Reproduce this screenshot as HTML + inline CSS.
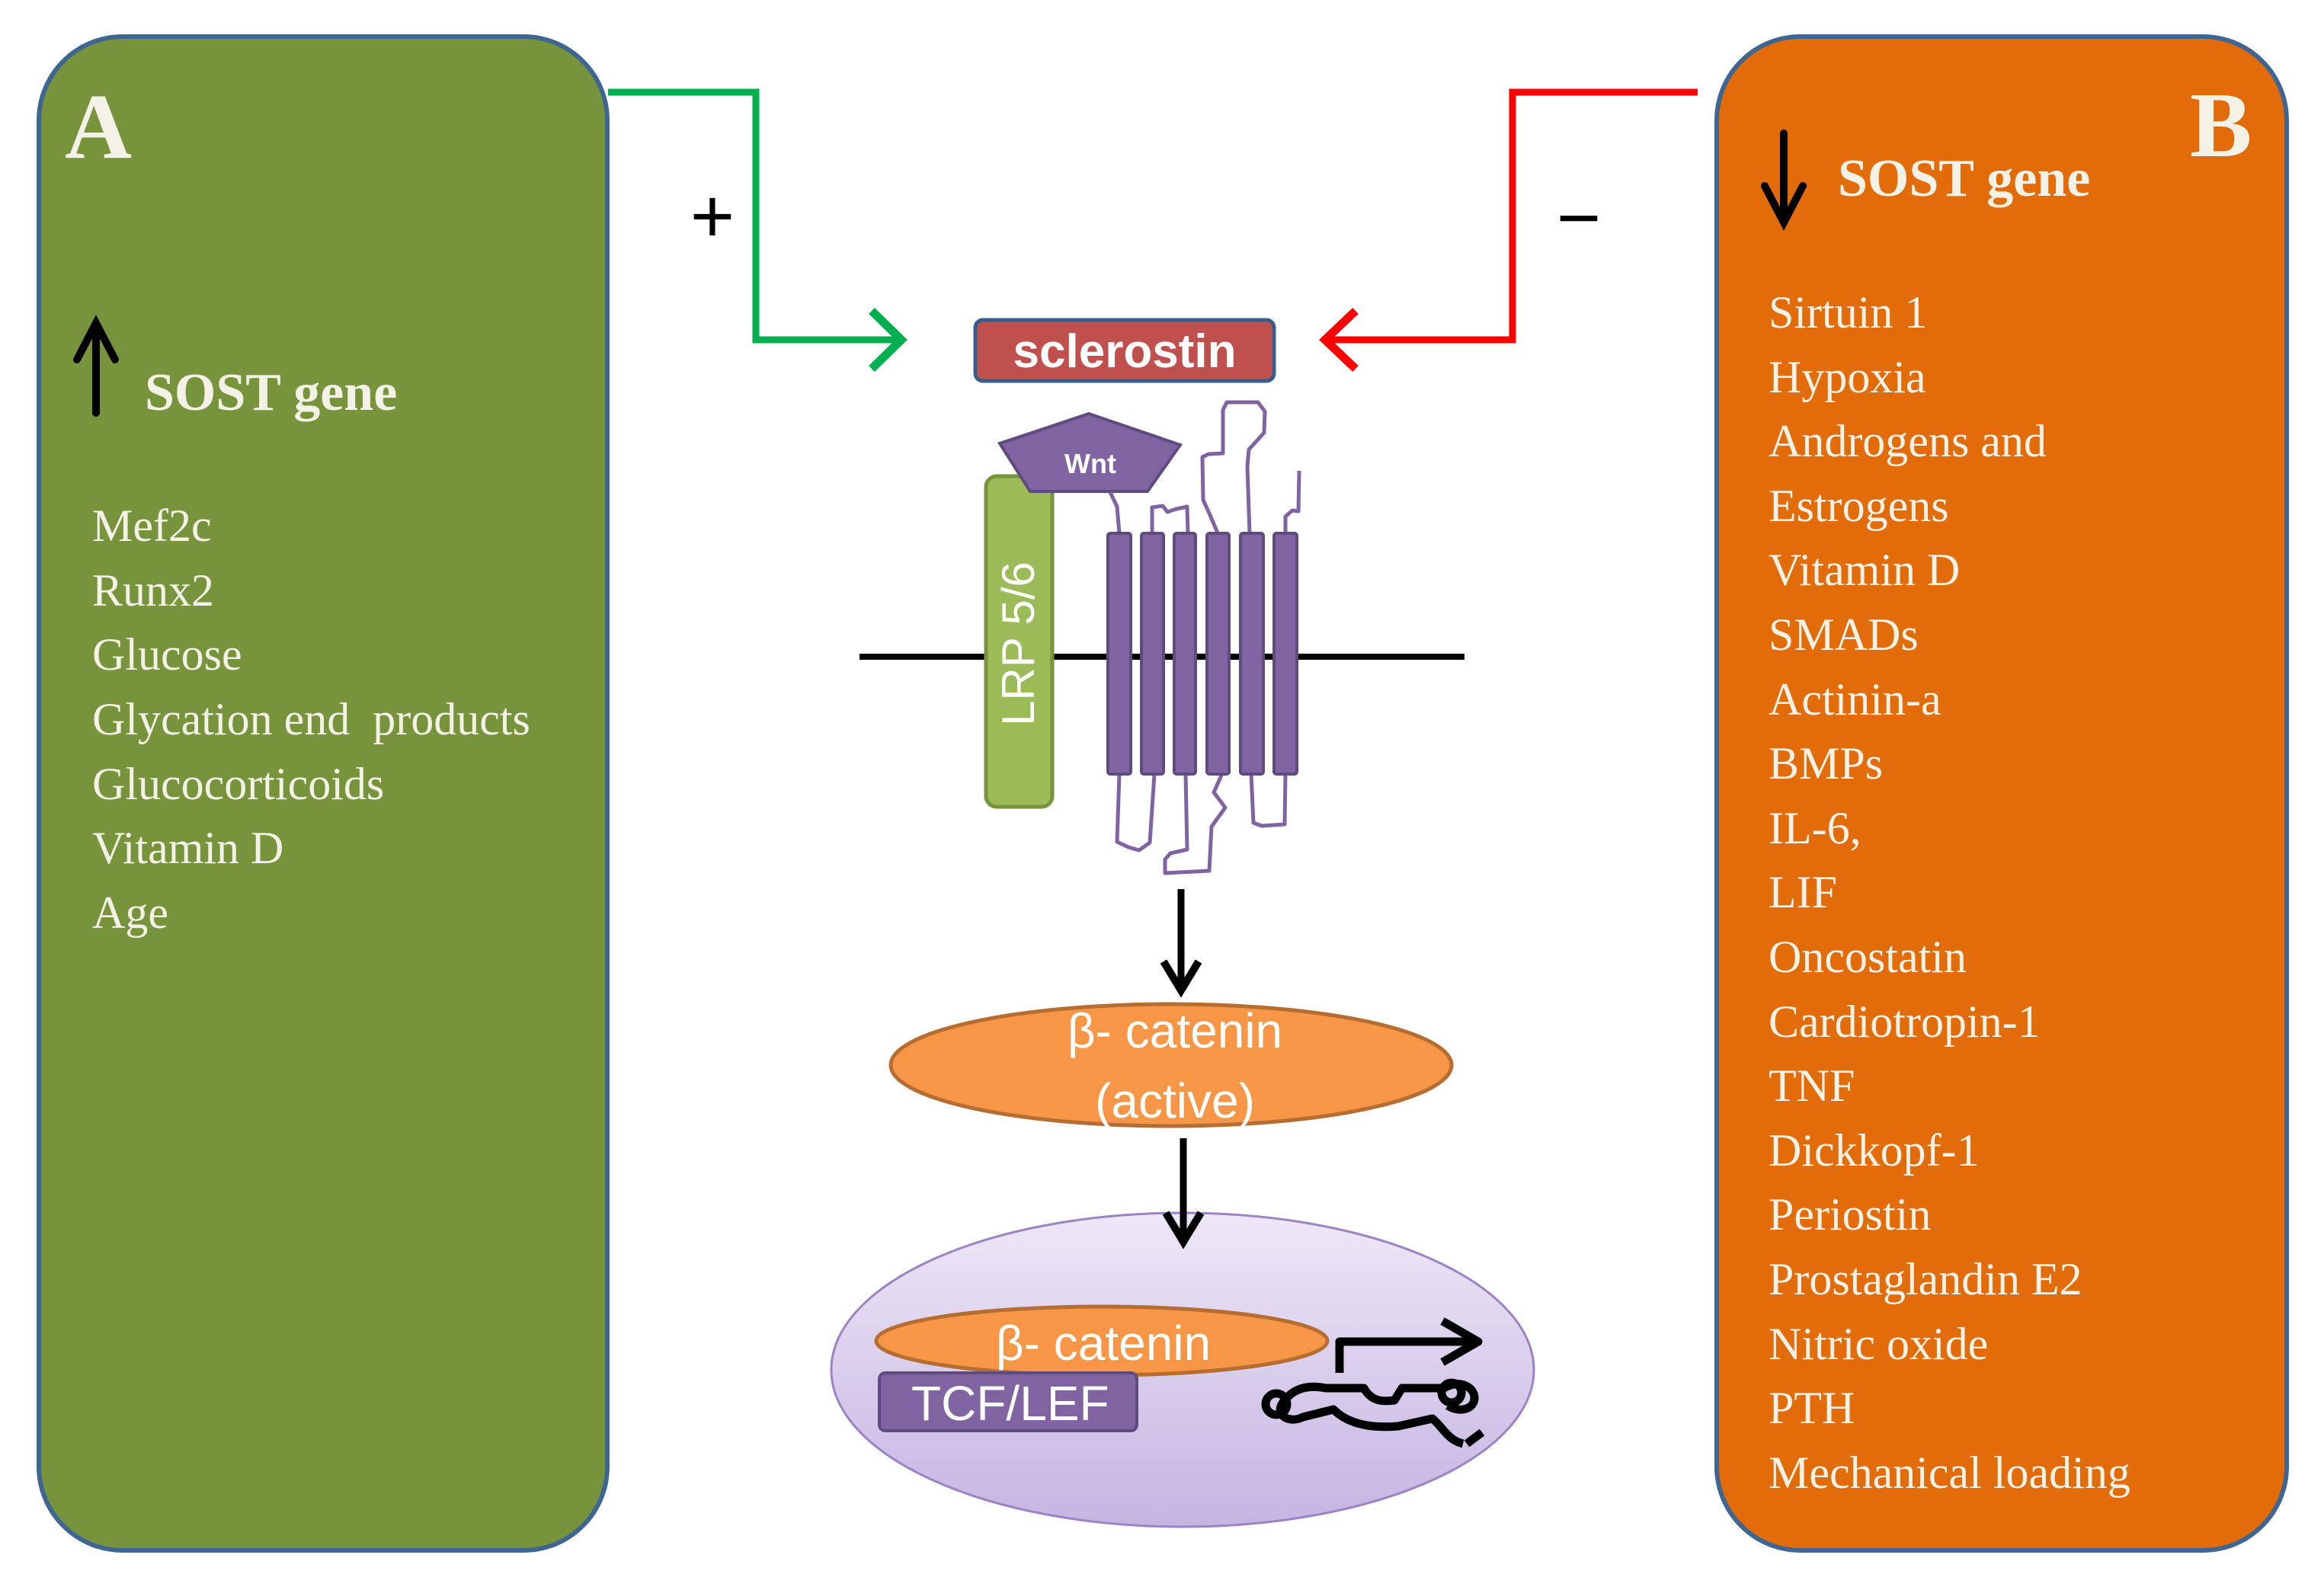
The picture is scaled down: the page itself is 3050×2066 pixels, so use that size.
<!DOCTYPE html>
<html><head><meta charset="utf-8"><style>
html,body{margin:0;padding:0;background:#fff;}
svg{display:block;}
.ser{font-family:"Liberation Serif",serif;fill:#f4f2e6;}
.san{font-family:"Liberation Sans",sans-serif;fill:#fff;}
</style></head><body>
<svg width="3050" height="2066" viewBox="0 0 3050 2066" xmlns="http://www.w3.org/2000/svg">
<defs>
<linearGradient id="nuc" x1="0" y1="0" x2="0" y2="1">
<stop offset="0" stop-color="#ede8f7"/><stop offset="1" stop-color="#c6b4e2"/>
</linearGradient>
</defs>
<!-- Panels -->
<rect x="51" y="48" width="746" height="1987" rx="110" fill="#77933C" stroke="#3F6592" stroke-width="6"/>
<rect x="2253" y="48" width="748" height="1987" rx="110" fill="#E36C0A" stroke="#3F6592" stroke-width="6"/>

<!-- Panel A text -->
<text x="85" y="207" class="ser" font-size="122" font-weight="bold">A</text>
<g stroke="#000" stroke-width="10" fill="none" stroke-linecap="round">
<line x1="126" y1="428" x2="126" y2="542"/>
<polyline points="101,472 126,424 151,472"/>
</g>
<text x="190" y="538" class="ser" font-size="70" font-weight="bold">SOST gene</text>
<g class="ser" font-size="60">
<text x="121" y="710">Mef2c</text>
<text x="121" y="795">Runx2</text>
<text x="121" y="879">Glucose</text>
<text x="121" y="964" xml:space="preserve">Glycation end  products</text>
<text x="121" y="1049">Glucocorticoids</text>
<text x="121" y="1133">Vitamin D</text>
<text x="121" y="1218">Age</text>
</g>

<!-- Panel B text -->
<text x="2874" y="205" class="ser" font-size="122" font-weight="bold">B</text>
<g stroke="#000" stroke-width="10" fill="none" stroke-linecap="round">
<line x1="2341" y1="175" x2="2341" y2="288"/>
<polyline points="2316,244 2341,292 2366,244"/>
</g>
<text x="2412" y="257" class="ser" font-size="70" font-weight="bold">SOST gene</text>
<g class="ser" font-size="60">
<text x="2321" y="430">Sirtuin 1</text>
<text x="2321" y="515">Hypoxia</text>
<text x="2321" y="599">Androgens and</text>
<text x="2321" y="684">Estrogens</text>
<text x="2321" y="768">Vitamin D</text>
<text x="2321" y="853">SMADs</text>
<text x="2321" y="938">Actinin-a</text>
<text x="2321" y="1022">BMPs</text>
<text x="2321" y="1107">IL-6,</text>
<text x="2321" y="1191">LIF</text>
<text x="2321" y="1276">Oncostatin</text>
<text x="2321" y="1361">Cardiotropin-1</text>
<text x="2321" y="1445">TNF</text>
<text x="2321" y="1530">Dickkopf-1</text>
<text x="2321" y="1614">Periostin</text>
<text x="2321" y="1699">Prostaglandin E2</text>
<text x="2321" y="1784">Nitric oxide</text>
<text x="2321" y="1868">PTH</text>
<text x="2321" y="1953">Mechanical loading</text>
</g>

<!-- Connectors -->
<polyline points="798,121 992,121 992,446 1180,446" fill="none" stroke="#00B050" stroke-width="9"/>
<polyline points="1144,408 1183,446 1144,484" fill="none" stroke="#00B050" stroke-width="11"/>
<polyline points="2228,121 1985,121 1985,446 1742,446" fill="none" stroke="#FF0000" stroke-width="9"/>
<polyline points="1779,408 1739,446 1779,484" fill="none" stroke="#FF0000" stroke-width="11"/>
<text x="935" y="318" font-family="Liberation Sans,sans-serif" font-size="100" fill="#000" text-anchor="middle">+</text>
<text x="2072" y="320" font-family="Liberation Sans,sans-serif" font-size="100" fill="#000" text-anchor="middle">−</text>

<!-- Sclerostin -->
<rect x="1280" y="420" width="392" height="80" rx="10" fill="#C0504D" stroke="#385D8A" stroke-width="5"/>
<text x="1476" y="482" class="san" font-size="62" font-weight="bold" text-anchor="middle">sclerostin</text>

<!-- Membrane -->
<line x1="1128" y1="862" x2="1922" y2="862" stroke="#000" stroke-width="8"/>

<!-- LRP -->
<rect x="1294" y="625" width="87" height="434" rx="14" fill="#9BBB59" stroke="#77933C" stroke-width="5"/>
<text transform="translate(1357,845) rotate(-90)" class="san" font-size="60" text-anchor="middle">LRP 5/6</text>

<!-- Wnt -->
<polygon points="1312,582 1429,543 1549,584 1506,645 1352,645" fill="#8064A2" stroke="#5F4B7D" stroke-width="4"/>
<text x="1431" y="621" class="san" font-size="36" font-weight="bold" text-anchor="middle">Wnt</text>

<!-- Loops -->
<g transform="translate(-4,0)">
<g fill="none" stroke="#8064A2" stroke-width="5" stroke-linejoin="round">
<polyline points="1461,646 1470,665 1473,700"/>
<polyline points="1516,700 1516,666 1530,664 1536,672 1548,668 1562,665 1563,700"/>
<polyline points="1603,702 1592,676 1583,656 1582,600 1590,596 1609,595 1609,538 1614,528 1655,528 1664,540 1663,568 1643,590 1641,612 1644,700"/>
<polyline points="1691,700 1691,678 1700,670 1708,671 1709,618"/>
<polyline points="1473,1016 1470,1105 1485,1112 1499,1116 1513,1106 1519,1016"/>
<polyline points="1560,1016 1562,1115 1540,1120 1533,1128 1533,1146 1591,1143 1594,1085 1612,1060 1597,1040 1609,1013"/>
<polyline points="1646,1016 1649,1080 1660,1084 1690,1082 1691,1016"/>
</g>
<g fill="#8064A2" stroke="#5F4B7D" stroke-width="4">
<rect x="1458" y="700" width="30" height="316" rx="3"/>
<rect x="1502" y="700" width="29" height="316" rx="3"/>
<rect x="1545" y="700" width="28" height="316" rx="3"/>
<rect x="1588" y="700" width="29" height="316" rx="3"/>
<rect x="1632" y="700" width="30" height="316" rx="3"/>
<rect x="1676" y="700" width="30" height="316" rx="3"/>
</g>
</g>

<!-- Arrow 1 -->
<line x1="1550" y1="1167" x2="1550" y2="1295" stroke="#000" stroke-width="9"/>
<polyline points="1527,1262 1550,1300 1573,1262" fill="none" stroke="#000" stroke-width="10"/>

<!-- beta-catenin active -->
<ellipse cx="1537" cy="1398" rx="368" ry="80" fill="#F79646" stroke="#B66D31" stroke-width="5"/>
<text x="1542" y="1375" class="san" font-size="64" text-anchor="middle">β- catenin</text>
<text x="1542" y="1467" class="san" font-size="64" text-anchor="middle">(active)</text>

<!-- Nucleus -->
<ellipse cx="1552" cy="1798" rx="461" ry="206" fill="url(#nuc)" stroke="#9C84C4" stroke-width="3"/>
<ellipse cx="1446" cy="1760" rx="296" ry="45" fill="#F79646" stroke="#B66D31" stroke-width="5"/>
<text x="1448" y="1785" class="san" font-size="64" text-anchor="middle">β- catenin</text>
<rect x="1154" y="1802" width="338" height="76" rx="8" fill="#8064A2" stroke="#5F4B7D" stroke-width="4"/>
<text x="1196" y="1864" class="san" font-size="64">TCF/LEF</text>

<!-- Arrow 2 (on top of nucleus) -->
<line x1="1553" y1="1494" x2="1553" y2="1625" stroke="#000" stroke-width="9"/>
<polyline points="1530,1592 1553,1630 1576,1592" fill="none" stroke="#000" stroke-width="10"/>

<!-- Gene -->
<g fill="none" stroke="#000" stroke-width="11" stroke-linejoin="round">
<polyline points="1758,1802 1758,1761 1935,1761"/>
<polyline points="1893,1734 1940,1761 1893,1788"/>
<path d="M1686,1838 C1700,1820 1720,1818 1740,1822 L1790,1822 C1800,1840 1815,1840 1830,1838 L1840,1822 L1895,1822 C1915,1810 1935,1820 1935,1835 C1935,1850 1915,1855 1900,1845"/>
<path d="M1686,1838 C1670,1855 1690,1870 1710,1860 L1750,1850 C1770,1870 1800,1875 1835,1872 L1880,1862 C1895,1875 1900,1890 1920,1895"/>
<path d="M1925,1895 L1945,1880" />
<circle cx="1675" cy="1843" r="14"/>
<circle cx="1905" cy="1828" r="13"/>
</g>
</svg>
</body></html>
